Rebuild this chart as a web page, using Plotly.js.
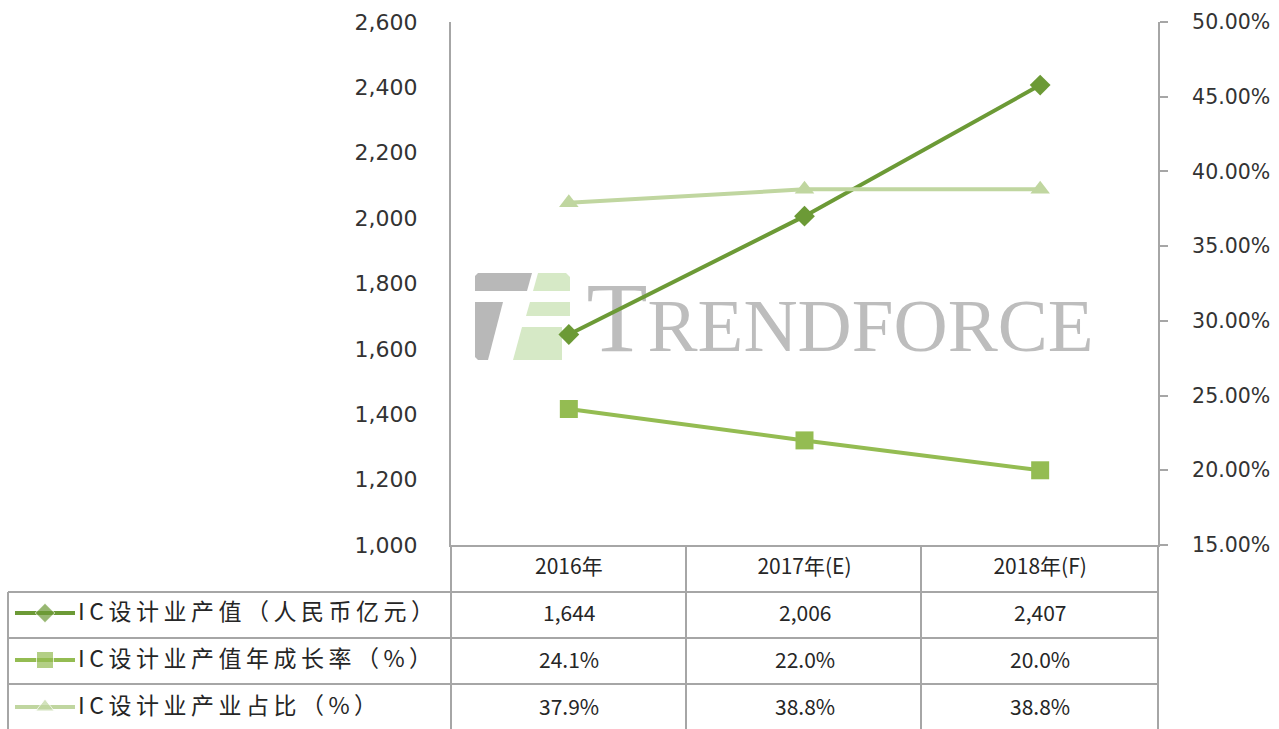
<!DOCTYPE html>
<html>
<head>
<meta charset="utf-8">
<script src="https://cdn.plot.ly/plotly-3.0.1.min.js"></script>
<style>html,body{margin:0;padding:0;background:#fff;}#chart{width:1279px;height:729px;}</style>
</head>
<body>
<div id="chart"></div>
<script>
// ---- data ----
const categories = ['2016年', '2017年(E)', '2018年(F)'];
const outputValue = [1644, 2006, 2407];          // 人民币亿元 (left axis)
const growthRate = [24.1, 22.0, 20.0];           // % (right axis)
const industryShare = [37.9, 38.8, 38.8];        // % (right axis)
const seriesNames = ['IC设计业产值（人民币亿元）', 'IC设计业产值年成长率（%）', 'IC设计业产业占比（%）'];
const leftTicks = [1000, 1200, 1400, 1600, 1800, 2000, 2200, 2400, 2600];
const rightTicks = [15, 20, 25, 30, 35, 40, 45, 50];
const rightTickText = rightTicks.map(v => v.toFixed(2) + '%');

// ---- helpers (pixel -> paper) ----
const W = 1279, H = 729;
const px = x => x / W;
const py = y => 1 - y / H;

const colors = ['#6c9a36', '#94bc52', '#c0d6a0'];
const symbols = ['diamond', 'square', 'triangle-up'];
const msizes = [16, 18, 17];
const idx = categories.map((_, i) => i);
const gridColor = '#a6a6a6';

const fmtInt = v => v.toLocaleString('en-US');
const fmtPct = v => v.toFixed(1) + '%';
const tableRows = [outputValue.map(fmtInt), growthRate.map(fmtPct), industryShare.map(fmtPct)];
const rowCenters = [613, 660, 707];
const textShift = 16; // compensates the tall CJK font box

const traces = [];
// watermark text (drawn first so it sits below the lines)
traces.push({
  x: [0.075], y: [1652], mode: 'text', type: 'scatter',
  text: ['<span style="font-size:100px">T</span>RENDFORCE'],
  textposition: 'middle right',
  textfont: {family: 'Liberation Serif', size: 75, color: '#bdbdbd'},
  hoverinfo: 'skip', showlegend: false, cliponaxis: false
});
const seriesVals = [outputValue, growthRate, industryShare];
const seriesAxis = ['y', 'y2', 'y2'];
seriesVals.forEach((vals, s) => {
  traces.push({
    x: idx, y: vals, yaxis: seriesAxis[s], xaxis: 'x', type: 'scatter', mode: 'lines+markers',
    name: seriesNames[s],
    line: {color: colors[s], width: 4},
    marker: {symbol: symbols[s], size: msizes[s], color: colors[s]},
    cliponaxis: false, showlegend: false
  });
});
// legend keys inside the table
seriesNames.forEach((n, s) => {
  const yy = py(rowCenters[s]);
  traces.push({
    x: [0, 0.5, 1], y: [yy, yy, yy], xaxis: 'x3', yaxis: 'y3', type: 'scatter', mode: 'lines+markers',
    line: {color: colors[s], width: 4},
    marker: {symbol: symbols[s], size: [0, msizes[s] - 1, 0], color: colors[s]},
    hoverinfo: 'skip', showlegend: false, cliponaxis: false
  });
});

const shapes = [];
const line = (x0, y0, x1, y1) => shapes.push({type: 'line', xref: 'paper', yref: 'paper',
  x0: px(x0), y0: py(y0), x1: px(x1), y1: py(y1), line: {color: gridColor, width: 2}, layer: 'above'});
[592, 638, 684].forEach(y => line(8, y, 1158, y));
line(8, 592, 8, 729);
[451, 686, 921, 1158].forEach(x => line(x, 545, x, 729));

// logo icon of watermark
const poly = (pts, color) => shapes.push({type: 'path', xref: 'paper', yref: 'paper', layer: 'below',
  path: 'M' + pts.map(p => px(p[0]) + ',' + py(p[1])).join('L') + 'Z', fillcolor: color, line: {width: 0}});
const g1 = '#b8b8b8', g2 = '#d6e9c6';
poly([[478, 273], [532, 273], [527, 291], [475, 291], [475, 276]], g1);
poly([[475, 302], [503, 302], [488, 360], [478, 360], [475, 357]], g1);
poly([[538, 273], [566, 273], [570, 277], [570, 291], [533, 291]], g2);
poly([[530, 302], [570, 302], [570, 316], [526, 316]], g2);
poly([[522, 327], [562, 327], [562, 360], [513, 360]], g2);

const annotations = [];
tableRows.forEach((row, r) => {
  row.forEach((t, c) => annotations.push({
    xref: 'x', yref: 'paper', x: idx[c], y: py(rowCenters[r] + textShift), text: t, showarrow: false,
    font: {family: 'Noto Sans CJK SC', size: 21, color: '#262626'}
  }));
  annotations.push({
    xref: 'paper', yref: 'paper', x: px(76), y: py(rowCenters[r] + textShift), xanchor: 'left',
    text: '<span style="letter-spacing:4.5px">' + seriesNames[r] + '</span>', showarrow: false,
    font: {family: 'Noto Sans CJK SC', size: 23, color: '#262626'}
  });
});

const axisFont = {family: 'DejaVu Sans', size: 22, color: '#333333'};
const layout = {
  width: W, height: H, margin: {l: 0, r: 0, t: 0, b: 0},
  paper_bgcolor: '#ffffff', plot_bgcolor: 'rgba(0,0,0,0)', showlegend: false,
  xaxis: {domain: [px(451), px(1158)], range: [-0.5, 2.5], tickvals: idx, ticktext: categories,
    showline: true, linecolor: gridColor, linewidth: 2, ticks: '', showgrid: false, zeroline: false,
    tickfont: {family: 'Noto Sans CJK SC', size: 21, color: '#262626'}, ticklabelstandoff: 2, fixedrange: true},
  yaxis: {domain: [py(545), py(22)], range: [1000, 2600], tickvals: leftTicks, tickformat: ',d',
    showline: true, linecolor: gridColor, linewidth: 2, ticks: '', showgrid: false, zeroline: false,
    tickfont: axisFont, ticklabelstandoff: 27, fixedrange: true},
  yaxis2: {overlaying: 'y', side: 'right', anchor: 'x', range: [15, 50], tickvals: rightTicks,
    ticktext: rightTickText, showline: true, linecolor: gridColor, linewidth: 2,
    ticks: 'outside', ticklen: 8, tickwidth: 2, tickcolor: gridColor, showgrid: false, zeroline: false,
    tickfont: {family: 'DejaVu Sans', size: 20.5, color: '#333333'}, ticklabelstandoff: 20, fixedrange: true},
  xaxis3: {domain: [px(15), px(75)], range: [0, 1], visible: false, anchor: 'y3', fixedrange: true},
  yaxis3: {domain: [0, py(545)], range: [0, py(545)], visible: false, anchor: 'x3', fixedrange: true},
  shapes: shapes, annotations: annotations
};
Plotly.newPlot('chart', traces, layout, {displayModeBar: false, staticPlot: true});
</script>
</body>
</html>
